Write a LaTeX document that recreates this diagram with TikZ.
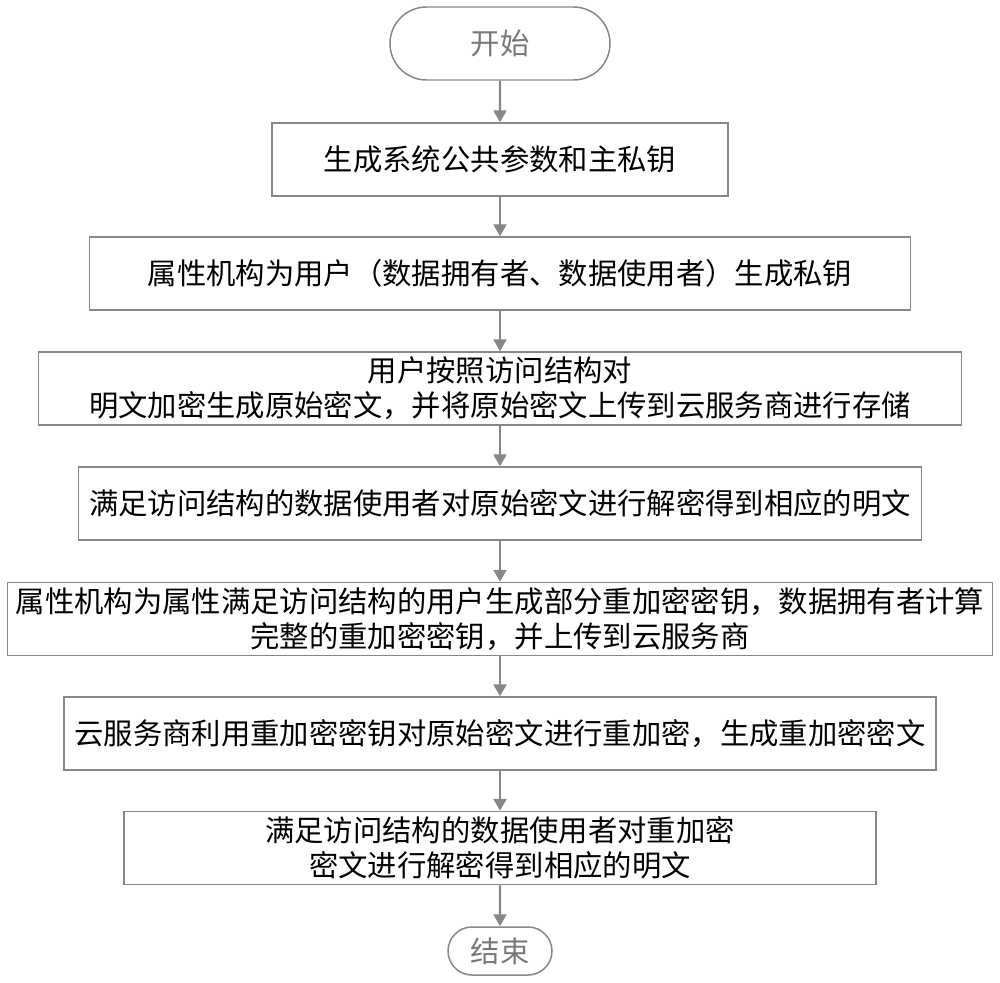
\documentclass[tikz,border=0pt]{standalone}
\usepackage{fontspec}
\usepackage{tikz}
\usetikzlibrary{shapes.misc, arrows.meta}
\newfontfamily\cjk{Noto Sans CJK SC}
\definecolor{flowGray}{RGB}{135, 135, 135}
\definecolor{termGray}{RGB}{120, 120, 120}

\begin{document}
\begin{tikzpicture}[
	stepbox/.style={draw=flowGray, line width=0.85pt, rectangle, minimum height=1.46cm,
		inner sep=0pt, align=center, text=black, font=\cjk\fontsize{16.7}{20}\selectfont},
	termbox/.style={draw=flowGray, line width=0.85pt, rounded rectangle, inner sep=0pt,
		text=termGray, font=\cjk\fontsize{16.7}{20}\selectfont},
	flowarrow/.style={flowGray, line width=1.4pt, -{Triangle[length=2.4mm, width=2.6mm]}}
	]
	\useasboundingbox (0,0) rectangle (20,-19.66);
	% terminals
	\node[termbox, minimum width=4.4cm, minimum height=1.46cm] (start) at (10,-0.87) {开始};
	\node[termbox, minimum width=2.08cm, minimum height=0.96cm] (stop) at (10,-19.02) {结束};
	% steps
	\node[stepbox, minimum width=9.12cm] (s1) at (10,-3.19) {生成系统公共参数和主私钥};
	\node[stepbox, minimum width=16.42cm] (s2) at (10,-5.47)
	{属性机构为用户（数据拥有者、数据使用者）生成私钥};
	\node[stepbox, minimum width=18.46cm] (s3) at (10,-7.77)
	{用户按照访问结构对\\明文加密生成原始密文，并将原始密文上传到云服务商进行存储};
	\node[stepbox, minimum width=16.86cm] (s4) at (10,-10.07)
	{满足访问结构的数据使用者对原始密文进行解密得到相应的明文};
	\node[stepbox, minimum width=19.7cm] (s5) at (10,-12.38)
	{属性机构为属性满足访问结构的用户生成部分重加密密钥，数据拥有者计算\\完整的重加密密钥，并上传到云服务商};
	\node[stepbox, minimum width=17.44cm] (s6) at (10,-14.67)
	{云服务商利用重加密密钥对原始密文进行重加密，生成重加密密文};
	\node[stepbox, minimum width=15.04cm] (s7) at (10,-16.96)
	{满足访问结构的数据使用者对重加密\\密文进行解密得到相应的明文};
	% arrows
	\draw[flowarrow] (start) -- (s1);
	\draw[flowarrow] (s1) -- (s2);
	\draw[flowarrow] (s2) -- (s3);
	\draw[flowarrow] (s3) -- (s4);
	\draw[flowarrow] (s4) -- (s5);
	\draw[flowarrow] (s5) -- (s6);
	\draw[flowarrow] (s6) -- (s7);
	\draw[flowarrow] (s7) -- (stop);
\end{tikzpicture}
\end{document}
